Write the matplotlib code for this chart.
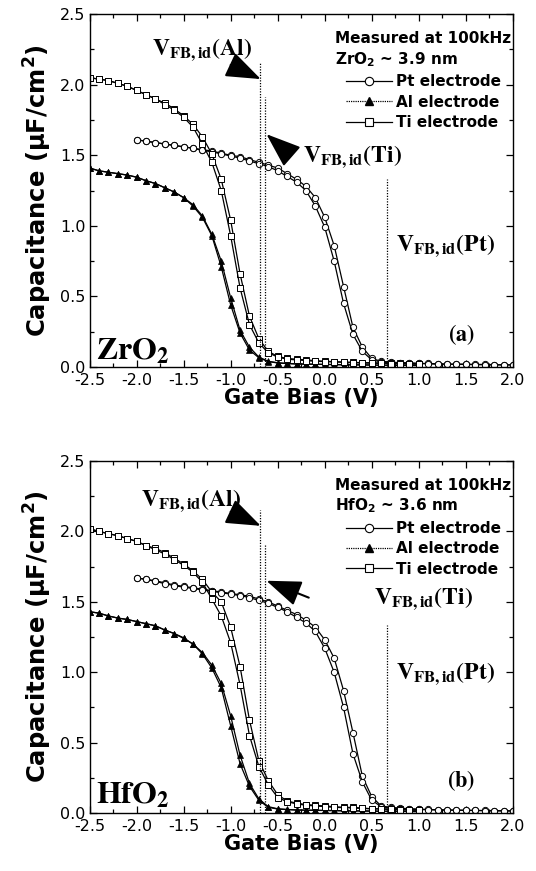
import matplotlib
matplotlib.use('Agg')
import matplotlib.pyplot as plt
from matplotlib.lines import Line2D
from matplotlib.ticker import MultipleLocator, FormatStrFormatter
import numpy as np

# gate bias grids (V)
x_pt = np.round(np.arange(-2.0, 2.01, 0.1), 2)
x_ti = np.round(np.arange(-2.5, 1.01, 0.1), 2)
x_al = np.round(np.arange(-2.5, 1.01, 0.1), 2)

# ZrO2 panel, two sweeps per electrode (uF/cm2)
zr_pt_a = [1.61, 1.60, 1.59, 1.58, 1.57, 1.56, 1.55, 1.54, 1.53, 1.515,
           1.50, 1.49, 1.47, 1.45, 1.43, 1.41, 1.37, 1.33, 1.28, 1.20,
           1.06, 0.86, 0.57, 0.28, 0.14, 0.06, 0.04, 0.035, 0.03, 0.03,
           0.025, 0.025, 0.022, 0.02, 0.02, 0.02, 0.018, 0.018, 0.016, 0.015, 0.015]
zr_pt_b = [1.61, 1.60, 1.59, 1.58, 1.57, 1.56, 1.55, 1.535, 1.525, 1.51,
           1.495, 1.48, 1.46, 1.44, 1.42, 1.39, 1.35, 1.31, 1.25, 1.14,
           0.99, 0.75, 0.45, 0.23, 0.11, 0.05, 0.035, 0.03, 0.03, 0.025,
           0.025, 0.022, 0.02, 0.02, 0.018, 0.018, 0.016, 0.016, 0.015, 0.015, 0.014]
zr_ti_a = [2.05, 2.04, 2.03, 2.01, 1.99, 1.96, 1.93, 1.90, 1.87, 1.83,
           1.78, 1.72, 1.63, 1.51, 1.33, 1.04, 0.66, 0.36, 0.20, 0.11,
           0.075, 0.06, 0.055, 0.05, 0.045, 0.04, 0.038, 0.035, 0.033, 0.03,
           0.03, 0.028, 0.025, 0.025, 0.022, 0.02]
zr_ti_b = [2.05, 2.04, 2.03, 2.01, 1.99, 1.96, 1.93, 1.90, 1.86, 1.82,
           1.77, 1.70, 1.58, 1.45, 1.25, 0.93, 0.56, 0.30, 0.17, 0.10,
           0.07, 0.055, 0.05, 0.045, 0.04, 0.038, 0.035, 0.033, 0.03, 0.028,
           0.027, 0.025, 0.024, 0.022, 0.02, 0.02]
zr_al_a = [1.41, 1.39, 1.38, 1.37, 1.36, 1.345, 1.32, 1.30, 1.27, 1.24,
           1.20, 1.15, 1.07, 0.94, 0.75, 0.49, 0.26, 0.14, 0.07, 0.04,
           0.03, 0.025, 0.022, 0.02, 0.02, 0.018, 0.018, 0.016, 0.015, 0.015,
           0.014, 0.013, 0.012, 0.012, 0.011, 0.01]
zr_al_b = [1.41, 1.39, 1.38, 1.37, 1.36, 1.345, 1.32, 1.30, 1.27, 1.24,
           1.20, 1.14, 1.06, 0.93, 0.71, 0.44, 0.24, 0.12, 0.065, 0.038,
           0.028, 0.024, 0.021, 0.02, 0.018, 0.018, 0.016, 0.015, 0.015, 0.014,
           0.013, 0.012, 0.012, 0.011, 0.01, 0.01]

# HfO2 panel
hf_pt_a = [1.67, 1.66, 1.65, 1.635, 1.62, 1.61, 1.60, 1.59, 1.58, 1.57,
           1.56, 1.55, 1.54, 1.52, 1.50, 1.47, 1.44, 1.41, 1.37, 1.32,
           1.23, 1.10, 0.87, 0.57, 0.26, 0.115, 0.05, 0.04, 0.035, 0.03,
           0.028, 0.025, 0.023, 0.022, 0.02, 0.02, 0.018, 0.018, 0.016, 0.016, 0.015]
hf_pt_b = [1.67, 1.66, 1.645, 1.63, 1.615, 1.605, 1.595, 1.585, 1.575, 1.565,
           1.555, 1.545, 1.53, 1.51, 1.49, 1.46, 1.43, 1.39, 1.35, 1.29,
           1.17, 1.00, 0.75, 0.42, 0.22, 0.09, 0.045, 0.035, 0.03, 0.028,
           0.025, 0.023, 0.022, 0.02, 0.02, 0.018, 0.018, 0.016, 0.016, 0.015, 0.014]
hf_ti_a = [2.02, 2.00, 1.985, 1.97, 1.95, 1.93, 1.90, 1.88, 1.85, 1.81,
           1.77, 1.72, 1.66, 1.57, 1.50, 1.32, 1.04, 0.66, 0.37, 0.23,
           0.13, 0.085, 0.07, 0.06, 0.055, 0.05, 0.045, 0.04, 0.04, 0.035,
           0.03, 0.03, 0.028, 0.025, 0.022, 0.02]
hf_ti_b = [2.02, 2.00, 1.985, 1.97, 1.95, 1.93, 1.90, 1.87, 1.84, 1.80,
           1.76, 1.71, 1.64, 1.52, 1.40, 1.21, 0.91, 0.55, 0.33, 0.20,
           0.11, 0.08, 0.065, 0.055, 0.05, 0.045, 0.04, 0.038, 0.035, 0.032,
           0.03, 0.028, 0.025, 0.023, 0.02, 0.02]
hf_al_a = [1.43, 1.42, 1.40, 1.385, 1.375, 1.36, 1.345, 1.33, 1.30, 1.275,
           1.245, 1.20, 1.14, 1.05, 0.92, 0.69, 0.41, 0.21, 0.10, 0.045,
           0.03, 0.025, 0.022, 0.02, 0.02, 0.018, 0.018, 0.016, 0.015, 0.015,
           0.014, 0.013, 0.012, 0.012, 0.011, 0.01]
hf_al_b = [1.43, 1.42, 1.40, 1.385, 1.375, 1.36, 1.345, 1.33, 1.30, 1.275,
           1.24, 1.20, 1.13, 1.03, 0.89, 0.62, 0.35, 0.19, 0.09, 0.04,
           0.028, 0.024, 0.021, 0.02, 0.018, 0.018, 0.016, 0.015, 0.015, 0.014,
           0.013, 0.012, 0.012, 0.011, 0.01, 0.01]

# ideal flat-band voltage markers (V) and the height of the dotted lines
vfb_x = [-0.69, -0.64, 0.66]
vfb_top = [2.155, 1.91, 1.335]

legend_labels = ['Pt electrode', 'Al electrode', 'Ti electrode']

plt.rcParams['font.family'] = 'DejaVu Sans'
plt.rcParams['xtick.direction'] = 'in'
plt.rcParams['ytick.direction'] = 'in'

fig = plt.figure(figsize=(5.36, 8.71), dpi=100)
ax_top = fig.add_axes([0.167, 0.5787, 0.790, 0.405])
ax_bot = fig.add_axes([0.167, 0.0666, 0.790, 0.404])

serif = dict(math_fontfamily='stix', color='k')


def draw_panel(ax, pt, al, ti, oxide, thick, tag, al_txt, ti_txt, pt_txt, ti_tail, ox_y):
    kw = dict(color='k', lw=0.9)
    for y in pt:
        ax.plot(x_pt, y, marker='o', ms=4.5, mfc='white', mew=0.7, **kw)
    for y in al:
        ax.plot(x_al, y, marker='^', ms=4.6, mfc='k', mew=0.5, **kw)
    for y in ti:
        ax.plot(x_ti, y, marker='s', ms=4.0, mfc='white', mew=0.7, **kw)

    for xv, top in zip(vfb_x, vfb_top):
        ax.plot([xv, xv], [0, top], color='k', ls=(0, (1, 1.2)), lw=0.9)

    ax.set_xlim(-2.5, 2.0)
    ax.set_ylim(0, 2.5)
    ax.xaxis.set_major_locator(MultipleLocator(0.5))
    ax.xaxis.set_minor_locator(MultipleLocator(0.25))
    ax.yaxis.set_major_locator(MultipleLocator(0.5))
    ax.yaxis.set_minor_locator(MultipleLocator(0.25))
    ax.xaxis.set_major_formatter(FormatStrFormatter('%.1f'))
    ax.yaxis.set_major_formatter(FormatStrFormatter('%.1f'))
    ax.tick_params(which='both', top=True, right=True, labelsize=11.5, width=0.9)
    ax.tick_params(which='major', length=5)
    ax.tick_params(which='minor', length=3)
    ax.tick_params(axis='x', pad=4.5)
    ax.tick_params(axis='y', pad=3)
    for s in ax.spines.values():
        s.set_linewidth(1.0)
    ax.set_xlabel('Gate Bias (V)', fontsize=15, fontweight='bold', labelpad=0)
    ax.set_ylabel('Capacitance (µF/cm$^\\mathbf{2}$)', fontsize=17.5,
                  fontweight='bold', labelpad=4)

    # annotations
    ax.text(al_txt[0], al_txt[1], r'$\mathbf{V_{FB,id}(Al)}$', fontsize=17,
            ha='left', va='center', **serif)
    ax.text(ti_txt[0], ti_txt[1], r'$\mathbf{V_{FB,id}(Ti)}$', fontsize=17,
            ha='left', va='center', **serif)
    ax.text(pt_txt[0], pt_txt[1], r'$\mathbf{V_{FB,id}(Pt)}$', fontsize=17,
            ha='left', va='center', **serif)
    arrow = dict(arrowstyle='-|>,head_length=1.35,head_width=0.5',
                 mutation_scale=16, color='k', lw=1.5, shrinkA=0, shrinkB=0)
    ax.annotate('', xy=(-0.68, 2.04), xytext=(-1.0, 2.14), arrowprops=arrow)
    ax.annotate('', xy=(-0.62, 1.65), xytext=ti_tail, arrowprops=arrow)

    ax.text(-2.43, ox_y, r'$\mathbf{%s}$' % oxide, fontsize=23, ha='left',
            va='center', **serif)
    ax.text(1.45, 0.23, r'$\mathbf{(%s)}$' % tag, fontsize=16, ha='center',
            va='center', **serif)

    ax.text(0.58, 0.932, 'Measured at 100kHz', transform=ax.transAxes,
            fontsize=11, fontweight='bold', ha='left', va='center')
    ax.text(0.58, 0.872, thick, transform=ax.transAxes,
            fontsize=11, fontweight='bold', ha='left', va='center')
    handles = [
        Line2D([], [], color='k', lw=0.9, marker='o', ms=6, mfc='white', mew=0.8),
        Line2D([], [], color='k', lw=0.9, ls=(0, (1, 0.8)), marker='^', ms=6, mfc='k'),
        Line2D([], [], color='k', lw=0.9, marker='s', ms=5.5, mfc='white', mew=0.8),
    ]
    ax.legend(handles, legend_labels, loc='upper left',
              bbox_to_anchor=(0.605, 0.83), frameon=False, handlelength=3.0,
              handletextpad=0.3, labelspacing=0.35, borderpad=0,
              borderaxespad=0, prop=dict(size=11, weight='bold'))


draw_panel(ax_top, [zr_pt_a, zr_pt_b], [zr_al_a, zr_al_b], [zr_ti_a, zr_ti_b],
           r'ZrO_2', r'ZrO$_\mathbf{2}$ ~ 3.9 nm', 'a',
           (-1.84, 2.25), (-0.23, 1.49), (0.76, 0.86), (-0.38, 1.51), 0.11)
draw_panel(ax_bot, [hf_pt_a, hf_pt_b], [hf_al_a, hf_al_b], [hf_ti_a, hf_ti_b],
           r'HfO_2', r'HfO$_\mathbf{2}$ ~ 3.6 nm', 'b',
           (-1.95, 2.22), (0.52, 1.52), (0.76, 0.99), (-0.17, 1.53), 0.13)

fig.savefig('out.png', dpi=100)
